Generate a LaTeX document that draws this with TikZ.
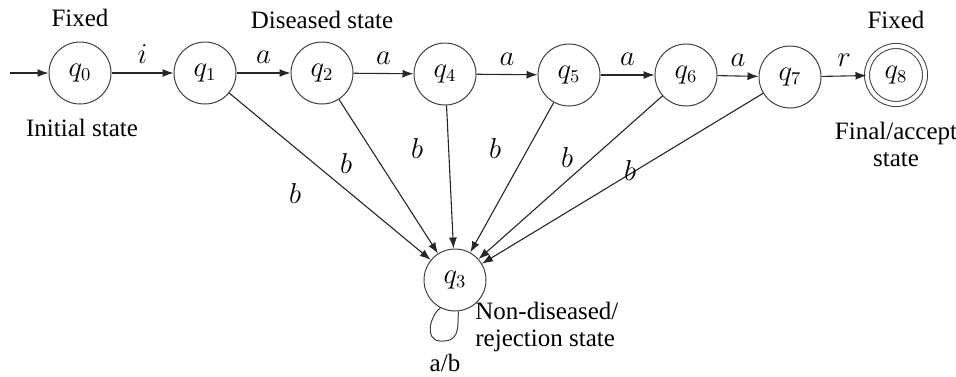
\documentclass[tikz,border=0pt]{standalone}
\usepackage{fontspec}
\setmainfont{Liberation Serif}
\usetikzlibrary{arrows.meta}
\begin{document}
\begin{tikzpicture}[x=0.5pt,y=-0.5pt,
  every node/.style={font=\fontsize{12.5}{13.5}\selectfont},
  st/.style={circle,draw=black!75,line width=0.5pt,minimum size=31pt,inner sep=0pt,font=\fontsize{13.5}{14}\selectfont},
  acc/.style={st,double=white,double distance=2pt,minimum size=29pt},
  tr/.style={draw=black!85,line width=0.55pt,-{Latex[length=5.5pt,width=4pt]}},
  lbl/.style={font=\fontsize{13.5}{14}\selectfont},
  txt/.style={inner sep=0pt}]
\useasboundingbox (0,0) rectangle (956,376);
\node[st] (q0) at (80,73) {$q_0$};
\node[st] (q1) at (205,73) {$q_1$};
\node[st] (q2) at (322,73) {$q_2$};
\node[st] (q4) at (445,74) {$q_4$};
\node[st] (q5) at (569,75) {$q_5$};
\node[st] (q6) at (686,75) {$q_6$};
\node[st] (q7) at (790,77) {$q_7$};
\node[acc] (q8) at (896,75) {$q_8$};
\node[st] (q3) at (455,280) {$q_3$};
\coordinate (s) at (10,73);
% texts
\node[txt] (t1) at (80,18) {Fixed};
\node[txt] (t2) at (82,128) {Initial state};
\node[txt] (t3) at (322,20) {Diseased state};
\node[txt] (t4) at (896,20) {Fixed};
\node[txt,align=center] (t5) at (896,144) {Final/accept\\state};
\node[txt,align=left,anchor=north west] (t6) at (475,302) {Non-diseased/\\rejection state};
\node[txt] (t7) at (445,363) {a/b};
% transitions
\draw[tr] (s) -- (q0);
\draw[tr] (q0) -- node[above=1pt,lbl] {$i$} (q1);
\draw[tr] (q1) -- node[above=1pt,lbl] {$a$} (q2);
\draw[tr] (q2) -- node[above=1pt,lbl] {$a$} (q4);
\draw[tr] (q4) -- node[above=1pt,lbl] {$a$} (q5);
\draw[tr] (q5) -- node[above=1pt,lbl] {$a$} (q6);
\draw[tr] (q6) -- node[above=1pt,lbl] {$a$} (q7);
\draw[tr] (q7) -- node[above=1pt,lbl] {$r$} (q8);
\draw[tr] (q1) -- (q3);
\draw[tr] (q2) -- (q3);
\draw[tr] (q4) -- (q3);
\draw[tr] (q5) -- (q3);
\draw[tr] (q6) -- (q3);
\draw[tr] (q7) -- (q3);
\node[lbl] (b1) at (295,193) {$b$};
\node[lbl] (b2) at (346,163) {$b$};
\node[lbl] (b3) at (417,148) {$b$};
\node[lbl] (b4) at (495,148) {$b$};
\node[lbl] (b5) at (567,157) {$b$};
\node[lbl] (b6) at (630,170) {$b$};
% self loop
\draw[draw=black!75,line width=0.5pt] (q3.-118) .. controls (430,316) and (424,340) .. (440,341)
  .. controls (459,342) and (458,330) .. (q3.-84);
\end{tikzpicture}
\end{document}
